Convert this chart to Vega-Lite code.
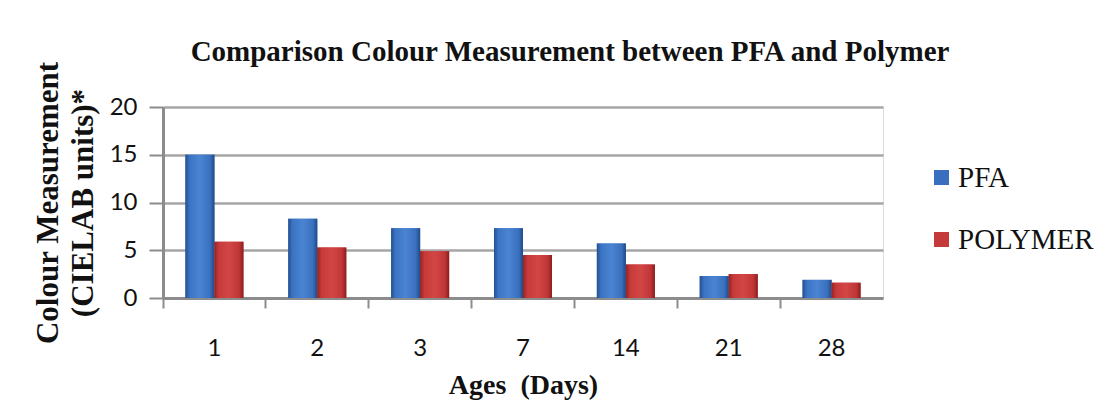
{
  "$schema": "https://vega.github.io/schema/vega-lite/v6.json",
  "width": 720,
  "height": 191,
  "autosize": {"type": "none"},
  "padding": {"left": 163, "top": 107, "right": 237, "bottom": 109},
  "background": "white",
  "title": {
    "text": "Comparison Colour Measurement between PFA and Polymer",
    "font": "Liberation Serif",
    "fontSize": 29,
    "fontWeight": "bold",
    "color": "#111111",
    "anchor": "middle",
    "dx": 47,
    "dy": 59,
    "offset": 30,
    "baseline": "alphabetic"
  },
  "data": {
    "values": [
      {"age": 1, "series": "PFA", "value": 15.0},
      {"age": 1, "series": "POLYMER", "value": 5.9},
      {"age": 2, "series": "PFA", "value": 8.3},
      {"age": 2, "series": "POLYMER", "value": 5.3},
      {"age": 3, "series": "PFA", "value": 7.3},
      {"age": 3, "series": "POLYMER", "value": 4.9},
      {"age": 7, "series": "PFA", "value": 7.3},
      {"age": 7, "series": "POLYMER", "value": 4.5},
      {"age": 14, "series": "PFA", "value": 5.7},
      {"age": 14, "series": "POLYMER", "value": 3.5},
      {"age": 21, "series": "PFA", "value": 2.3},
      {"age": 21, "series": "POLYMER", "value": 2.5},
      {"age": 28, "series": "PFA", "value": 1.9},
      {"age": 28, "series": "POLYMER", "value": 1.6}
    ]
  },
  "encoding": {
    "x": {
      "field": "age",
      "type": "ordinal",
      "sort": [1, 2, 3, 7, 14, 21, 28],
      "scale": {"paddingInner": 0, "paddingOuter": 0},
      "axis": {
        "title": "Ages \u00a0(Days)",
        "titleFont": "Liberation Serif",
        "titleFontSize": 28,
        "titleFontWeight": "bold",
        "titleColor": "#111111",
        "titlePadding": 11,
        "labelAngle": 0,
        "labelFont": "Lato",
        "labelFontSize": 24,
        "labelColor": "#111111",
        "labelPadding": 28,
        "labelOffset": 0,
        "bandPosition": 0,
        "tickSize": 10,
        "tickColor": "#8c8c8c",
        "tickWidth": 2,
        "domainColor": "#8c8c8c",
        "domainWidth": 3,
        "grid": false
      }
    },
    "xOffset": {
      "field": "series",
      "scale": {"paddingInner": 0, "paddingOuter": 0.773}
    },
    "y": {
      "field": "value",
      "type": "quantitative",
      "scale": {"domain": [0, 20], "nice": false},
      "axis": {
        "title": ["Colour Measurement", "(CIELAB units)*"],
        "titleFont": "Liberation Serif",
        "titleFontSize": 31,
        "titleFontWeight": "bold",
        "titleColor": "#111111",
        "titleLineHeight": 35,
        "titlePadding": 10,
        "values": [0, 5, 10, 15, 20],
        "labelFont": "Lato",
        "labelFontSize": 24,
        "labelColor": "#111111",
        "labelPadding": 12,
        "tickSize": 14,
        "tickColor": "#8c8c8c",
        "tickWidth": 2,
        "domainColor": "#8c8c8c",
        "domainWidth": 3,
        "gridColor": "#a6a6a6",
        "gridWidth": 2.5
      }
    }
  },
  "layer": [
    {
      "mark": {"type": "bar"},
      "encoding": {
        "color": {
          "field": "series",
          "type": "nominal",
          "scale": {"domain": ["PFA", "POLYMER"], "range": ["#3a6fc0", "#c43a3a"]},
          "legend": {
            "title": null,
            "orient": "none",
            "legendX": 764,
            "legendY": 56,
            "padding": 0,
            "labelFont": "Liberation Serif",
            "labelFontSize": 29,
            "labelColor": "#111111",
            "labelOffset": 2,
            "symbolType": "square",
            "symbolSize": 225,
            "symbolStrokeWidth": 0,
            "rowPadding": 32
          }
        }
      }
    },
    {
      "transform": [{"filter": "datum.series === 'PFA'"}],
      "mark": {
        "type": "bar",
        "fill": {
          "gradient": "linear",
          "x1": 0, "y1": 0, "x2": 1, "y2": 0,
          "stops": [
            {"offset": 0, "color": "#24508f"},
            {"offset": 0.15, "color": "#3c74c4"},
            {"offset": 0.5, "color": "#4a84d2"},
            {"offset": 0.85, "color": "#3a70bd"},
            {"offset": 1, "color": "#1f4a88"}
          ]
        }
      }
    },
    {
      "transform": [{"filter": "datum.series === 'POLYMER'"}],
      "mark": {
        "type": "bar",
        "fill": {
          "gradient": "linear",
          "x1": 0, "y1": 0, "x2": 1, "y2": 0,
          "stops": [
            {"offset": 0, "color": "#962222"},
            {"offset": 0.15, "color": "#c63a3a"},
            {"offset": 0.5, "color": "#d24646"},
            {"offset": 0.85, "color": "#c03636"},
            {"offset": 1, "color": "#8a1e1e"}
          ]
        }
      }
    }
  ]
}
